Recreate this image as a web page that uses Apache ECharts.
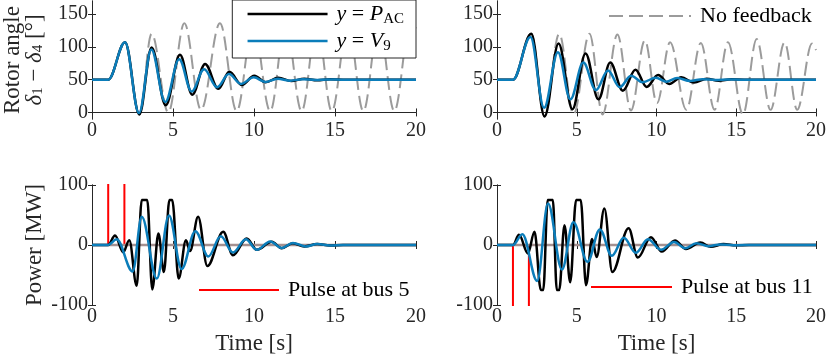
<!DOCTYPE html>
<html><head><meta charset="utf-8">
<script src="https://cdn.jsdelivr.net/npm/echarts@6/dist/echarts.min.js"></script>
<style>html,body{margin:0;padding:0;background:#fff}#c{width:829px;height:361px}</style>
</head><body><div id="c"></div>
<script>
// ---------- axis definitions ----------
const timeRange = [0, 20];
const xTicks = [0, 5, 10, 15, 20];
const angleRange = [-10, 170];
const angleTicks = [0, 50, 100, 150];
const powerRange = [-100, 100];
const powerTicks = [-100, 0, 100];

// ---------- rotor angle, pulse at bus 5 (top left) [t, deg] ----------
const angleLeftPAC = [[0,50],[1.0,50],[2.04,107],[2.92,-3],[3.68,99],[4.55,11],[5.43,88],[6.19,27],[6.98,74],[7.8,36],[8.48,62],[9.24,42],[10.02,56],[10.72,46],[11.5,53],[12.3,48],[13.1,51.5],[13.9,49],[14.7,50.5],[15.5,50],[20,50]];
const angleLeftV9 = [[0,50],[1.0,50],[2.04,107],[2.9,-1],[3.66,96],[4.52,16],[5.38,81],[6.15,32],[6.92,66],[7.72,38.5],[8.45,58.5],[9.2,43.5],[9.98,53.5],[10.7,46.5],[11.45,51.5],[12.25,48.5],[13.0,50.8],[13.8,49.5],[14.6,50.2],[15.4,50],[20,50]];
const angleLeftNoFb = [[0,50],[1.0,50],[2.04,107],[2.92,-3],[3.68,120],[4.71,0],[5.7,136],[6.73,4],[7.9,136],[8.93,2],[9.95,136],[11.0,2],[11.95,136],[12.94,2],[13.88,136],[14.8,2],[15.8,136],[16.75,2],[17.7,136],[18.66,2],[19.65,136],[20,128]];

// ---------- rotor angle, pulse at bus 11 (top right) ----------
const angleRightPAC = [[0,50],[1.0,50],[2.15,120],[2.98,-6],[3.86,105],[4.73,5],[5.55,90],[6.36,20],[7.1,76],[7.89,33],[8.68,65],[9.38,39],[10.1,57],[10.8,43.5],[11.55,53.6],[12.35,45.5],[13.15,51.5],[13.9,48.5],[14.7,50.5],[15.5,50],[20,50]];
const angleRightV9 = [[0,50],[1.0,50],[2.1,115],[2.95,7],[3.82,92],[4.6,20],[5.41,76],[6.2,34],[6.96,64],[7.69,38.5],[8.41,56],[9.13,46],[9.96,53],[10.6,47],[11.3,52.5],[12.1,48],[12.9,50.8],[13.7,49.5],[14.5,50.2],[15.3,50],[20,50]];
const angleRightNoFb = [[0,50],[1.0,50],[2.15,120],[2.98,-6],[3.9,120],[4.8,-3],[5.8,120],[6.62,-3],[7.55,119],[8.4,3],[9.27,110],[10.03,14],[10.85,107],[11.87,4],[12.78,106],[13.64,4],[14.48,107],[15.42,-3],[16.28,112],[17.15,4],[18.03,107],[18.82,4],[19.75,105],[20,95]];

// ---------- power, pulse at bus 5 (bottom left) [t, MW] ----------
const powerLeftPAC = [[0,0],[1.0,0],[1.42,16],[1.93,-12],[2.3,8],[2.76,-68],[3.07,75],[3.41,75],[3.72,-74],[4.1,19],[4.44,-45],[4.78,75],[4.95,75],[5.35,-56],[5.8,8],[6.05,-10],[6.55,47],[7.12,-35],[8.1,22],[8.7,-17],[9.55,11],[10.17,-8],[11.1,5.5],[11.7,-5.5],[12.4,3],[13.1,-2.5],[13.9,1.5],[14.7,-0.8],[15.5,0],[20,0]];
const powerLeftV9 = [[0,0],[1.0,0],[1.52,9.4],[2.51,-44],[3.07,47],[4.0,-56],[4.75,49],[5.53,-40],[6.38,23],[7.18,-19],[7.95,14.5],[8.7,-12.5],[9.5,9.5],[10.17,-8],[11.0,6],[11.7,-5],[12.4,3.5],[13.2,-2.5],[13.9,1.5],[14.7,-0.8],[15.5,0],[20,0]];
const pulseBus5 = [[0,0],[1,0],[1,200],[2,200],[2,0],[20,0]];

// ---------- power, pulse at bus 11 (bottom right) ----------
const powerRightPAC = [[0,0],[1.0,0],[1.38,17],[1.94,-14],[2.35,22],[2.75,-75],[2.9,-75],[3.18,75],[3.5,75],[3.75,-75],[3.9,-75],[4.23,33],[4.59,-62],[4.96,75],[5.25,75],[5.58,-67],[5.96,10],[6.25,-20],[6.73,61],[7.23,-45],[8.25,28],[8.83,-21],[9.65,13],[10.33,-11],[11.16,7.5],[11.85,-6.7],[12.75,4],[13.4,-3],[14.2,1.5],[15,-0.5],[15.8,0],[20,0]];
const powerRightV9 = [[0,0],[1.0,0],[1.59,18],[2.52,-60],[3.2,69],[4.07,-41],[4.79,38],[5.67,-28],[6.45,26],[7.2,-18],[7.95,12],[8.7,-13],[9.47,9.5],[10.28,-8],[11.1,5],[11.8,-5.5],[12.5,3],[13.25,-2],[14,1],[14.8,-0.5],[15.5,0],[20,0]];
const pulseBus11 = [[0,0],[1,0],[1,-200],[2,-200],[2,0],[20,0]];

const powerNoFb = [[0,0],[20,0]];

// ---------- styling ----------
const SERIF = 'Liberation Serif, Times New Roman, serif';
const AX = '#262626';
const BLUE = '#0b7dba';
const GRAY = '#9b9b9b';
const ZERO = '#a49090';

const grids = [
  {left: 92, top: 1, width: 324, height: 118},
  {left: 497, top: 1, width: 322, height: 118},
  {left: 92, top: 185, width: 324, height: 120},
  {left: 497, top: 185, width: 322, height: 120}
];

const subRich = {
  n: {fontFamily: SERIF, fontSize: 23, lineHeight: 22, color: AX},
  d: {fontFamily: SERIF, fontSize: 23, lineHeight: 22, fontStyle: 'italic', color: AX},
  s: {fontFamily: SERIF, fontSize: 15, lineHeight: 10, verticalAlign: 'bottom', color: AX}
};

const xAxes = [], yAxes = [];
grids.forEach((g, gi) => {
  const isBottom = gi >= 2;
  xAxes.push({
    type: 'value', gridIndex: gi, min: timeRange[0], max: timeRange[1], interval: 5, position: 'bottom',
    axisLine: {show: true, lineStyle: {color: AX, width: 1}},
    axisTick: {show: true, inside: true, length: 4, lineStyle: {color: AX}},
    axisLabel: {show: true, margin: 2, fontFamily: SERIF, fontSize: 20, color: AX, customValues: xTicks},
    splitLine: {show: false},
    name: isBottom ? 'Time [s]' : '', nameLocation: 'middle', nameGap: 27,
    nameTextStyle: {fontFamily: SERIF, fontSize: 23, color: AX}
  });
  xAxes.push({
    type: 'value', gridIndex: gi, min: timeRange[0], max: timeRange[1], interval: 5, position: 'top',
    axisLine: {show: true, lineStyle: {color: AX, width: 1}},
    axisTick: {show: true, inside: true, length: 4, lineStyle: {color: AX}},
    axisLabel: {show: false}, splitLine: {show: false}
  });
  const range = isBottom ? powerRange : angleRange;
  const ticks = isBottom ? powerTicks : angleTicks;
  const yBase = {
    type: 'value', gridIndex: gi, min: range[0], max: range[1],
    axisLine: {show: true, lineStyle: {color: AX, width: 1}},
    axisTick: {show: true, inside: true, length: 4, lineStyle: {color: AX}, customValues: ticks},
    splitLine: {show: false}
  };
  let yName = '';
  if (gi === 0) yName = '{n|Rotor angle}\n{d|δ}{s|1}{n| − }{d|δ}{s|4}{n| [°]}';
  if (gi === 2) yName = '{n|Power [MW]}';
  yAxes.push(Object.assign({}, yBase, {
    position: 'left',
    axisLabel: {show: true, margin: 4, fontFamily: SERIF, fontSize: 20, color: AX, customValues: ticks},
    name: yName, nameLocation: 'middle', nameRotate: 90, nameGap: 46,
    nameTextStyle: {fontFamily: SERIF, fontSize: 23, color: AX, rich: subRich}
  }));
  yAxes.push(Object.assign({}, yBase, {position: 'right', axisLabel: {show: false}}));
});

function lineSeries(name, data, gi, color, width, opts) {
  return Object.assign({
    type: 'line', name: name, data: data, xAxisIndex: gi * 2, yAxisIndex: gi * 2,
    symbol: 'none', showSymbol: false, smooth: 0.36, smoothMonotone: 'x', clip: true,
    lineStyle: {color: color, width: width}, itemStyle: {color: color},
    emphasis: {disabled: true}, animation: false
  }, opts || {});
}

const dashed = {lineStyle: {color: GRAY, width: 2, type: [14, 6]}};
const zeroStyle = {smooth: false, lineStyle: {color: ZERO, width: 2.5}};
const series = [
  lineSeries('No feedback', angleLeftNoFb, 0, GRAY, 2, dashed),
  lineSeries('P_AC', angleLeftPAC, 0, '#000', 2.5),
  lineSeries('V9', angleLeftV9, 0, BLUE, 2.5),
  lineSeries('No feedback', angleRightNoFb, 1, GRAY, 2, dashed),
  lineSeries('P_AC', angleRightPAC, 1, '#000', 2.5),
  lineSeries('V9', angleRightV9, 1, BLUE, 2.5),
  lineSeries('Pulse at bus 5', pulseBus5, 2, '#ff0000', 2, {smooth: false}),
  lineSeries('No feedback', powerNoFb, 2, ZERO, 2.5, zeroStyle),
  lineSeries('P_AC', powerLeftPAC, 2, '#000', 2.5),
  lineSeries('V9', powerLeftV9, 2, BLUE, 2.5),
  lineSeries('Pulse at bus 11', pulseBus11, 3, '#ff0000', 2, {smooth: false}),
  lineSeries('No feedback', powerNoFb, 3, ZERO, 2.5, zeroStyle),
  lineSeries('P_AC', powerRightPAC, 3, '#000', 2.5),
  lineSeries('V9', powerRightV9, 3, BLUE, 2.5)
];

const legendRich = {
  i: {fontFamily: SERIF, fontSize: 22, lineHeight: 26, fontStyle: 'italic', color: '#000'},
  m: {fontFamily: SERIF, fontSize: 22, lineHeight: 26, color: '#000'},
  s: {fontFamily: SERIF, fontSize: 15, lineHeight: 11, verticalAlign: 'bottom', color: '#000'}
};
const plainLegendText = {fontFamily: SERIF, fontSize: 22, lineHeight: 26, color: '#000', padding: [0, 0, 0, 4]};
const noSymbol = {opacity: 0};

const chart = echarts.init(document.getElementById('c'), null, {renderer: 'canvas'});
chart.setOption({
  backgroundColor: '#fff',
  animation: false,
  grid: grids.map(g => Object.assign({containLabel: false}, g)),
  xAxis: xAxes,
  yAxis: yAxes,
  legend: [
    {
      data: ['P_AC', 'V9'], orient: 'vertical', right: 413, top: 0,
      padding: [3, 12, 4, 14], itemGap: 3, itemWidth: 80, itemHeight: 14,
      borderColor: AX, borderWidth: 1, backgroundColor: '#fff', selectedMode: false,
      itemStyle: noSymbol, lineStyle: {width: 2.5},
      formatter: function (name) {
        if (name === 'P_AC') return '{i|y}{m| = }{i|P}{s|AC}';
        if (name === 'V9') return '{i|y}{m| = }{i|V}{s|9}';
        return name;
      },
      textStyle: {rich: legendRich, padding: [0, 0, 0, 4]}
    },
    {data: ['No feedback'], left: 608, top: 3, padding: 0, itemWidth: 82, itemHeight: 14, selectedMode: false, itemStyle: noSymbol, textStyle: plainLegendText},
    {data: ['Pulse at bus 5'], left: 198, top: 277, padding: 0, itemWidth: 80, itemHeight: 14, selectedMode: false, itemStyle: noSymbol, textStyle: plainLegendText},
    {data: ['Pulse at bus 11'], left: 590, top: 274, padding: 0, itemWidth: 81, itemHeight: 14, selectedMode: false, itemStyle: noSymbol, textStyle: plainLegendText}
  ],
  series: series
});
</script>
</body></html>
